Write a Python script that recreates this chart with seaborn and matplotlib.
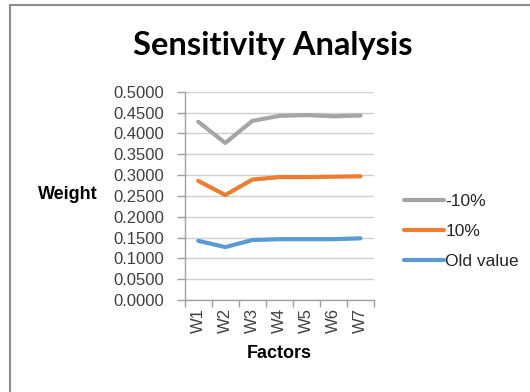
import matplotlib
matplotlib.use("Agg")
import matplotlib.pyplot as plt
import seaborn as sns
import pandas as pd
from matplotlib.lines import Line2D

factors = ["W1", "W2", "W3", "W4", "W5", "W6", "W7"]
minus10 = [0.428, 0.377, 0.430, 0.442, 0.444, 0.441, 0.443]
plus10 = [0.286, 0.252, 0.289, 0.295, 0.295, 0.296, 0.297]
old_value = [0.142, 0.127, 0.144, 0.146, 0.146, 0.146, 0.148]
series_names = ["-10%", "10%", "Old value"]
colors = ["#A5A5A5", "#ED7D31", "#5B9BD5"]
yticks = [0.0, 0.05, 0.1, 0.15, 0.2, 0.25, 0.3, 0.35, 0.4, 0.45, 0.5]

df = pd.DataFrame({
    "Factors": factors * 3,
    "Weight": minus10 + plus10 + old_value,
    "Series": [series_names[0]] * 7 + [series_names[1]] * 7 + [series_names[2]] * 7,
})

sns.set_theme(style="white")
plt.rcParams["font.family"] = ["Liberation Sans", "DejaVu Sans"]

fig = plt.figure(figsize=(5.3, 3.92), dpi=100)
ax = fig.add_axes([0.3485, 0.2347, 0.3572, 0.5313])

sns.lineplot(data=df, x="Factors", y="Weight", hue="Series",
             hue_order=series_names, palette=colors, linewidth=3,
             sort=False, ax=ax, legend=False)

ax.set_ylim(0, 0.5)
ax.set_yticks(yticks)
ax.set_yticklabels([f"{v:.4f}" for v in yticks], fontsize=12, color="#404040")
ax.yaxis.grid(True, color="#D0D0D0", linewidth=1)
ax.set_axisbelow(True)
ax.set_xlim(-0.5, len(factors) - 0.5)
ax.set_xticks(range(len(factors)))
ax.set_xticklabels(factors, rotation=90, fontsize=12, color="#404040")
ax.set_xticks([i - 0.5 for i in range(len(factors) + 1)], minor=True)
ax.tick_params(axis="x", which="major", length=0, pad=6)
ax.tick_params(axis="x", which="minor", length=5, width=1, color="#A0A0A0", bottom=True)
ax.tick_params(axis="y", which="major", length=6, width=1, color="#A0A0A0", left=True, pad=9)

for s in ["top", "right"]:
    ax.spines[s].set_visible(False)
for s in ["left", "bottom"]:
    ax.spines[s].set_color("#A0A0A0")
    ax.spines[s].set_linewidth(1)

ax.set_ylabel("Weight", fontsize=13, fontweight="bold", rotation=0, color="#000000",
              ha="center", va="center")
ax.yaxis.set_label_coords(-0.62, 0.505)
ax.set_xlabel("Factors", fontsize=13, fontweight="bold", color="#000000", labelpad=8)

fig.text(0.515, 0.885, "Sensitivity Analysis", ha="center", va="center",
         fontsize=23.5, fontfamily="Lato", fontweight="bold", color="#000000")

handles = [Line2D([0], [0], color=c, lw=3) for c in colors]
fig.legend(handles, series_names, loc="center left", bbox_to_anchor=(0.75, 0.41),
           frameon=False, fontsize=12.5, handlelength=2.3, handletextpad=0.05,
           labelspacing=0.85, borderaxespad=0)

# chart frame
fig.add_artist(Line2D([10 / 530, 10 / 530], [0, 1 - 5 / 392], transform=fig.transFigure,
                      color="#8C8C8C", lw=1.5))
fig.add_artist(Line2D([10 / 530, 1], [1 - 5 / 392, 1 - 5 / 392], transform=fig.transFigure,
                      color="#8C8C8C", lw=1.5))

fig.savefig("out.png", dpi=100, facecolor="white")
